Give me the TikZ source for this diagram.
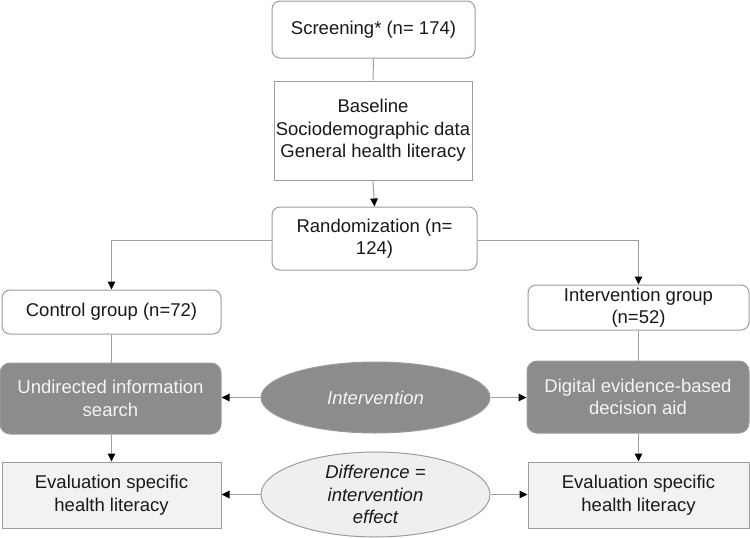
\documentclass[tikz,border=0pt]{standalone}
\usepackage{fontspec}
\setmainfont{Liberation Sans}
\usetikzlibrary{shapes.geometric,arrows.meta}
\definecolor{bordergray}{HTML}{9C9C9C}
\definecolor{linegray}{HTML}{A0A0A0}
\definecolor{darkfill}{HTML}{8C8C8C}
\definecolor{lightfill}{HTML}{F2F2F2}
\definecolor{ellfill}{HTML}{EFEFEF}
\definecolor{txtwhite}{HTML}{F4F4F4}
\begin{document}
\begin{tikzpicture}[x=1pt,y=-1pt,
  every node/.style={font=\fontsize{18.5}{22.5}\selectfont, align=center, inner sep=0pt, text=black!90},
  rbox/.style={draw=bordergray, line width=1pt, rounded corners=8pt, fill=white},
  sbox/.style={draw=bordergray, line width=1pt, fill=white},
  dbox/.style={draw=bordergray, line width=1pt, rounded corners=10pt, fill=darkfill, text=txtwhite},
  lbox/.style={draw=bordergray, line width=1pt, fill=lightfill},
  dell/.style={ellipse, draw=bordergray, line width=1pt, fill=darkfill, text=txtwhite, font=\fontsize{18.5}{22.5}\selectfont\itshape},
  lell/.style={ellipse, draw=bordergray, line width=1pt, fill=ellfill, font=\fontsize{18.5}{22.5}\selectfont\itshape},
  conn/.style={draw=linegray, line width=1pt},
  arr/.style={draw=linegray, line width=1pt, -{Triangle[black,length=8pt,width=7.5pt]}}
]
\useasboundingbox (0,0) rectangle (750,538);

\node[rbox, minimum width=203, minimum height=57] (screen) at (373.5,29.5) {Screening* (n= 174)};
\node[sbox, minimum width=198, minimum height=99] (base) at (373,130.5) {Baseline\\Sociodemographic data\\General health literacy};
\node[rbox, minimum width=205, minimum height=63] (rand) at (374.5,238.5) {Randomization (n=\\124)};
\node[rbox, minimum width=219, minimum height=44] (ctrl) at (111.5,312) {Control group (n=72)};
\node[rbox, minimum width=221, minimum height=45] (intg) at (638.5,307.5) {Intervention group\\(n=52)};
\node[dbox, minimum width=221, minimum height=71] (undir) at (110.5,398.5) {Undirected information\\search};
\node[dbox, minimum width=222, minimum height=72] (digi) at (638,397) {Digital evidence-based\\decision aid};
\node[lbox, minimum width=219, minimum height=66] (evalL) at (111.5,495) {Evaluation specific\\health literacy};
\node[lbox, minimum width=221, minimum height=66] (evalR) at (638.5,495) {Evaluation specific\\health literacy};
\node[dell, minimum width=229, minimum height=71] (interv) at (375.5,397.5) {Intervention};
\node[lell, minimum width=229, minimum height=85] (diff) at (375.5,494.5) {Difference =\\intervention\\effect};

\draw[conn] (screen.south) -- (base.north);
\draw[arr] (base.south) -- (rand.north);
\draw[arr] (rand.west |- 0,240) -| (ctrl.north);
\draw[arr] (rand.east |- 0,240) -| (intg.north);
\draw[conn] (ctrl.south) -- (undir.north -| ctrl.south);
\draw[conn] (intg.south) -- (digi.north -| intg.south);
\draw[arr] (undir.south -| ctrl.south) -- (evalL.north -| ctrl.south);
\draw[arr] (digi.south -| intg.south) -- (evalR.north -| intg.south);
\draw[arr] (interv.west) -- (undir.east |- interv.west);
\draw[arr] (interv.east) -- (digi.west |- interv.east);
\draw[arr] (diff.west) -- (evalL.east |- diff.west);
\draw[arr] (diff.east) -- (evalR.west |- diff.east);
\end{tikzpicture}
\end{document}
